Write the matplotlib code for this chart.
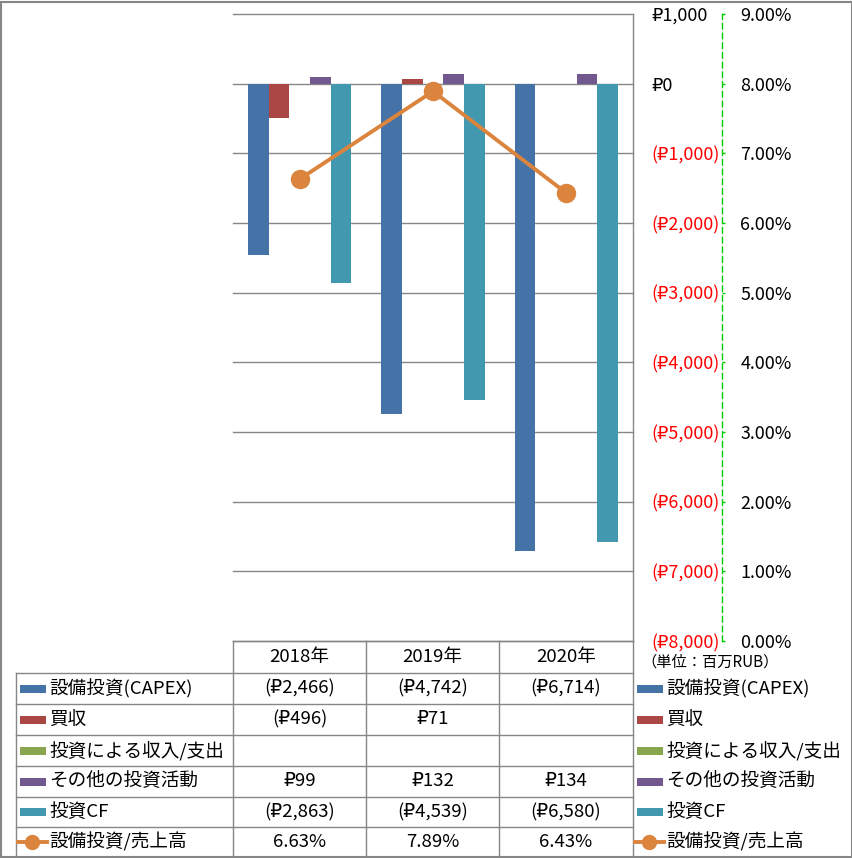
import matplotlib
matplotlib.use('Agg')
import matplotlib.pyplot as plt
from matplotlib.patches import Rectangle
from matplotlib.lines import Line2D
import numpy as np

plt.rcParams['font.family'] = ['Noto Sans CJK JP', 'DejaVu Sans']

# ---------------- data ----------------
years = ['2018年', '2019年', '2020年']
series_names = ['設備投資(CAPEX)', '買収', '投資による収入/支出', 'その他の投資活動', '投資CF']
capex = [-2466, -4742, -6714]
acquisition = [-496, 71, None]
invest_income = [None, None, None]
other_invest = [99, 132, 134]
invest_cf = [-2863, -4539, -6580]
line_name = '設備投資/売上高'
capex_ratio = [6.63, 7.89, 6.43]
y_ticks = list(range(-8000, 1001, 1000))
pct_ticks = list(range(0, 10))
unit_label = '（単位：百万RUB）'

colors = ['#4572A7', '#AA4643', '#89A54E', '#71588F', '#4198AF']
line_color = '#DB843D'
grid_color = '#868686'
all_series = [capex, acquisition, invest_income, other_invest, invest_cf]


def fmt_money(v):
    if v is None:
        return ''
    if v < 0:
        return f'(₽{abs(v):,})'
    return f'₽{v:,}'


W, H = 853, 858
fig = plt.figure(figsize=(W / 100, H / 100), dpi=100)


def fx(px):
    return px / W


def fy(py):
    return 1 - py / H


fs = 13.4
fs_axis = 12.9
PL, PR, PT, PB = 233, 633, 14, 641
ax = fig.add_axes([fx(PL), fy(PB), (PR - PL) / W, (PB - PT) / H])

x = np.arange(len(years))
bw = 20.6 / 133
for k, (vals, c) in enumerate(zip(all_series, colors)):
    v = [np.nan if a is None else a for a in vals]
    ax.bar(x + (k - 2) * bw, v, bw, color=c, zorder=3, linewidth=0)

ax.set_xlim(-0.5, len(years) - 0.5)
ax.set_ylim(min(y_ticks), max(y_ticks))
ax.set_xticks([])
ax.grid(axis='y', color=grid_color, lw=1)
ax.set_axisbelow(True)
for s in ['top', 'left', 'bottom']:
    ax.spines[s].set_visible(False)
ax.spines['right'].set_color(grid_color)
ax.spines['right'].set_linewidth(1)

ax2 = ax.twinx()
ax2.plot(x, capex_ratio, color=line_color, lw=2.8, marker='o', ms=13,
         zorder=4, clip_on=False)
ax2.set_ylim(min(pct_ticks), max(pct_ticks))
ax2.set_yticks(pct_ticks)
ax2.set_yticklabels([f'{t:.2f}%' for t in pct_ticks])
ax2.spines['right'].set_position(('axes', 1 + 89 / 400))
ax2.spines['right'].set_linestyle((0, (4, 3)))
ax2.spines['right'].set_color('#00CC00')
ax2.spines['right'].set_linewidth(1)
for s in ['top', 'left', 'bottom']:
    ax2.spines[s].set_visible(False)
ax2.tick_params(axis='y', direction='out', length=2.5, width=1,
                color='#00CC00', pad=10.8, labelsize=fs_axis)

# primary value axis labels (on the right of the plot)
ax.set_yticks(y_ticks)
ax.set_yticklabels([fmt_money(t) for t in y_ticks])
ax.yaxis.tick_right()
ax.yaxis.set_label_position('right')
ax.tick_params(axis='y', left=False, labelleft=False, right=True, labelright=True,
               length=0, pad=13.5, labelsize=fs_axis)
for lbl, t in zip(ax.get_yticklabels(), y_ticks):
    lbl.set_color('#FF0000' if t < 0 else 'black')
for gl in ax.get_ygridlines():
    gl.set_clip_on(False)

# ---------------- table / legend overlay ----------------
ov = fig.add_axes([0, 0, 1, 1], zorder=5)
ov.set_xlim(0, W)
ov.set_ylim(H, 0)
ov.axis('off')
ov.patch.set_visible(False)

lc = grid_color
ov.add_patch(Rectangle((1, 1.5), W - 2, H - 2.5, fill=False, ec=lc, lw=1.5))

row_lines = [641, 673, 704, 735, 766, 797, 827, 857]
col_lines = [233, 366, 499, 633]
ov.plot([PL, PR], [641, 641], color=lc, lw=1)
for yy in row_lines[1:-1]:
    ov.plot([16, PR], [yy, yy], color=lc, lw=1)
ov.plot([16, 16], [673, 857], color=lc, lw=1)
for xx in col_lines:
    ov.plot([xx, xx], [641, 857], color=lc, lw=1)

col_centers = [(col_lines[i] + col_lines[i + 1]) / 2 for i in range(3)]
row_centers = [(row_lines[i] + row_lines[i + 1]) / 2 for i in range(7)]

for cx, yr in zip(col_centers, years):
    ov.text(cx, row_centers[0], yr, ha='center', va='center', fontsize=fs)

ov.text(641, 662, unit_label, ha='left', va='center', fontsize=11)

for i, (name, vals, c) in enumerate(zip(series_names, all_series, colors)):
    yc = row_centers[i + 1]
    for kx, tx in [(20, 49), (637, 666)]:
        ov.add_patch(Rectangle((kx, yc - 4), 26, 8, color=c, lw=0))
        ov.text(tx, yc, name, ha='left', va='center', fontsize=fs)
    for cx, v in zip(col_centers, vals):
        ov.text(cx, yc, fmt_money(v), ha='center', va='center', fontsize=fs)

yc = row_centers[6]
for kx, tx in [(18, 49), (635, 666)]:
    ov.add_line(Line2D([kx, kx + 29], [yc, yc], color=line_color, lw=2.8))
    ov.add_line(Line2D([kx + 14.5], [yc], color=line_color, marker='o', ms=10, lw=0))
    ov.text(tx, yc, line_name, ha='left', va='center', fontsize=fs)
for cx, v in zip(col_centers, capex_ratio):
    ov.text(cx, yc, f'{v:.2f}%', ha='center', va='center', fontsize=fs)

fig.savefig('out.png', dpi=100)
